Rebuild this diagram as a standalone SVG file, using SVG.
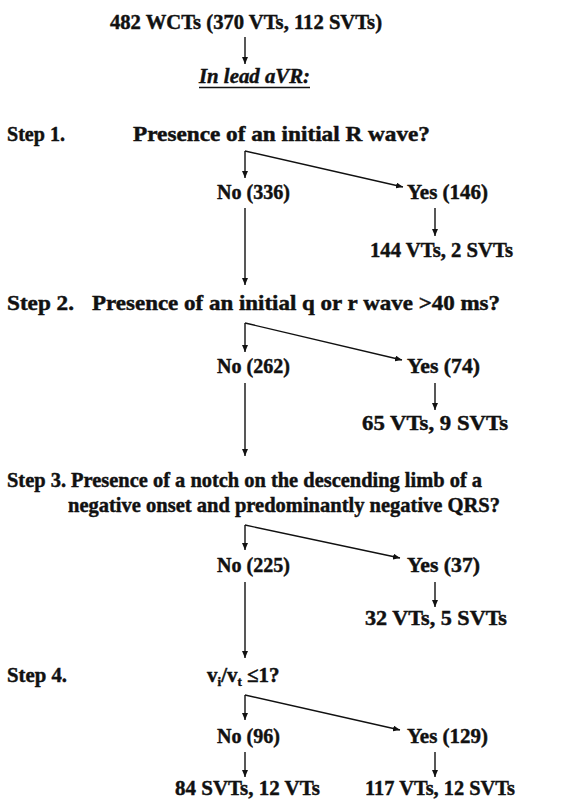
<svg xmlns="http://www.w3.org/2000/svg" width="576" height="805" viewBox="0 0 576 805">
<style>
text{font-family:"Liberation Serif","Times New Roman",serif;font-weight:bold;font-size:21px;fill:#111;stroke:#111;stroke-width:0.45}
.c line{stroke:#111;stroke-width:1.4;fill:none}
</style>
<defs>
<marker id="ah" markerWidth="8" markerHeight="6" refX="7" refY="3" orient="auto" markerUnits="userSpaceOnUse">
<path d="M0,0 L7,3 L0,6 Z" fill="#111"/>
</marker>
</defs>
<rect width="576" height="805" fill="#fff"/>
<g class="c" id="connectors">
<line x1="245" y1="37" x2="245" y2="64" marker-end="url(#ah)"/>
<line x1="245" y1="151" x2="245" y2="178" marker-end="url(#ah)"/>
<line x1="245" y1="151" x2="403" y2="187" marker-end="url(#ah)"/>
<line x1="435" y1="208" x2="435" y2="236" marker-end="url(#ah)"/>
<line x1="245" y1="208" x2="245" y2="285" marker-end="url(#ah)"/>
<line x1="245" y1="323" x2="245" y2="352" marker-end="url(#ah)"/>
<line x1="245" y1="323" x2="402" y2="360" marker-end="url(#ah)"/>
<line x1="435" y1="383" x2="435" y2="410" marker-end="url(#ah)"/>
<line x1="245" y1="383" x2="245" y2="456" marker-end="url(#ah)"/>
<line x1="245" y1="525" x2="245" y2="550" marker-end="url(#ah)"/>
<line x1="245" y1="525" x2="400" y2="558" marker-end="url(#ah)"/>
<line x1="435" y1="582" x2="435" y2="607" marker-end="url(#ah)"/>
<line x1="245" y1="582" x2="245" y2="658" marker-end="url(#ah)"/>
<line x1="245" y1="695" x2="245" y2="720" marker-end="url(#ah)"/>
<line x1="245" y1="695" x2="400" y2="730" marker-end="url(#ah)"/>
<line x1="245" y1="752" x2="245" y2="777" marker-end="url(#ah)"/>
<line x1="435" y1="752" x2="435" y2="777" marker-end="url(#ah)"/>
</g>
<g id="start"><text x="110" y="29" textLength="272" lengthAdjust="spacingAndGlyphs">482 WCTs (370 VTs, 112 SVTs)</text></g>
<g id="lead"><text x="199" y="83" textLength="111" lengthAdjust="spacingAndGlyphs" font-style="italic">In lead aVR:</text><line x1="199" y1="87.5" x2="310" y2="87.5" stroke="#111" stroke-width="1.4"/></g>
<g id="step1">
<text x="7" y="141" textLength="58" lengthAdjust="spacingAndGlyphs">Step 1.</text>
<text x="133" y="141" textLength="297" lengthAdjust="spacingAndGlyphs">Presence of an initial R wave?</text>
</g>
<g id="no1"><text x="217" y="199" textLength="73" lengthAdjust="spacingAndGlyphs">No (336)</text></g>
<g id="yes1"><text x="407" y="199" textLength="81" lengthAdjust="spacingAndGlyphs">Yes (146)</text></g>
<g id="res1"><text x="370" y="257" textLength="143" lengthAdjust="spacingAndGlyphs">144 VTs, 2 SVTs</text></g>
<g id="step2">
<text x="7" y="310" textLength="67" lengthAdjust="spacingAndGlyphs">Step 2.</text>
<text x="92" y="310" textLength="408" lengthAdjust="spacingAndGlyphs">Presence of an initial q or r wave &gt;40 ms?</text>
</g>
<g id="no2"><text x="217" y="373" textLength="73" lengthAdjust="spacingAndGlyphs">No (262)</text></g>
<g id="yes2"><text x="407" y="373" textLength="73" lengthAdjust="spacingAndGlyphs">Yes (74)</text></g>
<g id="res2"><text x="362" y="430" textLength="146" lengthAdjust="spacingAndGlyphs">65 VTs, 9 SVTs</text></g>
<g id="step3">
<text x="7" y="487" textLength="475" lengthAdjust="spacingAndGlyphs">Step 3. Presence of a notch on the descending limb of a</text>
<text x="68" y="512" textLength="432" lengthAdjust="spacingAndGlyphs">negative onset and predominantly negative QRS?</text>
</g>
<g id="no3"><text x="217" y="572" textLength="73" lengthAdjust="spacingAndGlyphs">No (225)</text></g>
<g id="yes3"><text x="407" y="572" textLength="73" lengthAdjust="spacingAndGlyphs">Yes (37)</text></g>
<g id="res3"><text x="365" y="625" textLength="142" lengthAdjust="spacingAndGlyphs">32 VTs, 5 SVTs</text></g>
<g id="step4">
<text x="7" y="682" textLength="60" lengthAdjust="spacingAndGlyphs">Step 4.</text>
<text x="207" y="682">v<tspan font-size="13" dy="4">i</tspan><tspan dy="-4">/v</tspan><tspan font-size="13" dy="4">t</tspan><tspan dy="-4"> ≤1?</tspan></text>
</g>
<g id="no4"><text x="217" y="743" textLength="63" lengthAdjust="spacingAndGlyphs">No (96)</text></g>
<g id="yes4"><text x="407" y="743" textLength="81" lengthAdjust="spacingAndGlyphs">Yes (129)</text></g>
<g id="res4a"><text x="175" y="795" textLength="145" lengthAdjust="spacingAndGlyphs">84 SVTs, 12 VTs</text></g>
<g id="res4b"><text x="365" y="795" textLength="150" lengthAdjust="spacingAndGlyphs">117 VTs, 12 SVTs</text></g>
</svg>
